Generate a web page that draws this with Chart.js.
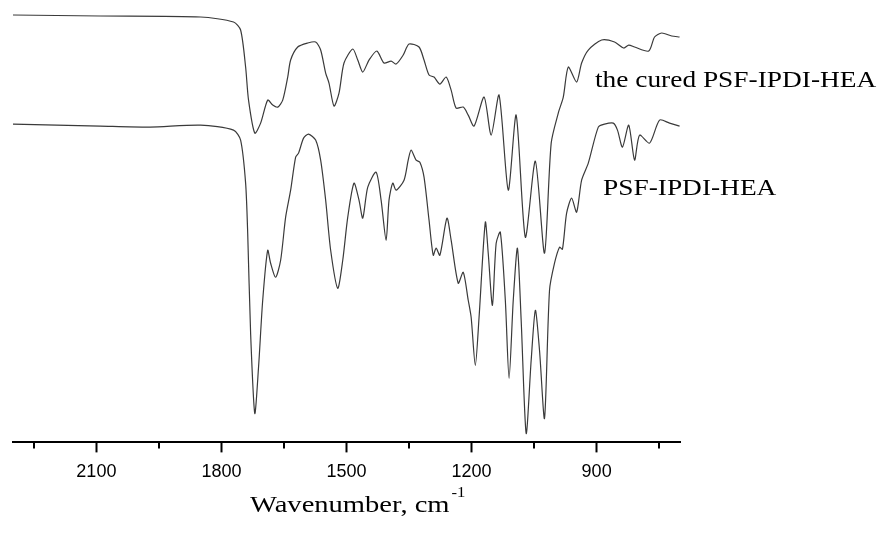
<!DOCTYPE html>
<html>
<head>
<meta charset="utf-8">
<script src="https://cdn.jsdelivr.net/npm/chart.js@4"></script>
<style>
  html, body { margin: 0; padding: 0; background: #fff; }
  #wrap { width: 882px; height: 533px; }
</style>
</head>
<body>
<div id="wrap"><canvas id="irChart" width="882" height="533"></canvas></div>
<script>
// FTIR spectra: cured vs uncured PSF-IPDI-HEA (transmittance, arbitrary units)

const seriesNames = ["the cured PSF-IPDI-HEA", "PSF-IPDI-HEA"];

const curedWavenumber = [2300, 2091, 1850, 1771, 1754, 1742, 1735, 1720, 1706, 1689, 1677, 1665, 1653, 1641, 1634, 1617, 1593, 1574, 1562, 1550, 1542, 1530, 1518, 1506, 1485, 1473, 1461, 1446, 1427, 1410, 1393, 1381, 1364, 1350, 1326, 1314, 1302, 1290, 1276, 1261, 1249, 1237, 1220, 1208, 1194, 1170, 1153, 1134, 1112, 1093, 1071, 1047, 1025, 1009, 992, 980, 968, 948, 936, 920, 888, 857, 835, 823, 809, 775, 761, 744, 720, 701];
const curedTrans = [427, 426, 425, 420, 412, 375, 342, 309, 319, 342, 337, 335, 342, 365, 382, 395, 399, 400, 392, 369, 359, 336, 349, 379, 393, 382, 370, 382, 391, 379, 381, 378, 387, 398, 395, 382, 367, 365, 358, 365, 352, 334, 335, 327, 316, 345, 307, 347, 252, 327, 205, 281, 189, 299, 329, 345, 375, 360, 379, 392, 402, 400, 394, 397, 395, 391, 405, 409, 406, 405];

const rawWavenumber = [2300, 2091, 1971, 1850, 1771, 1754, 1742, 1737, 1730, 1720, 1711, 1701, 1689, 1682, 1670, 1658, 1646, 1634, 1622, 1615, 1603, 1591, 1574, 1562, 1550, 1538, 1521, 1509, 1497, 1482, 1470, 1461, 1449, 1429, 1417, 1405, 1398, 1389, 1381, 1362, 1352, 1345, 1333, 1324, 1314, 1302, 1292, 1285, 1276, 1259, 1249, 1232, 1220, 1208, 1201, 1191, 1182, 1167, 1160, 1150, 1141, 1131, 1119, 1110, 1100, 1090, 1081, 1069, 1057, 1047, 1037, 1025, 1013, 1001, 989, 982, 972, 960, 948, 936, 920, 896, 881, 860, 850, 838, 823, 809, 797, 773, 749, 725, 701];
const rawTrans = [318, 316, 315, 317, 312, 302, 259, 209, 109, 29, 75, 142, 192, 179, 165, 182, 225, 252, 285, 289, 304, 308, 302, 282, 242, 192, 154, 182, 225, 259, 242, 224, 255, 270, 242, 202, 242, 259, 252, 262, 282, 292, 282, 280, 265, 222, 187, 194, 187, 224, 202, 159, 170, 142, 125, 77, 125, 220, 189, 137, 199, 210, 142, 64, 142, 194, 122, 9, 82, 132, 92, 24, 152, 179, 195, 193, 229, 244, 230, 262, 279, 315, 318, 319, 312, 295, 317, 282, 307, 299, 322, 319, 316];

const majorTicks = [2100, 1800, 1500, 1200, 900];
const minorTicks = [2250, 1950, 1650, 1350, 1050, 750];
const axisTitle = "Wavenumber, cm";
const axisTitleSup = "-1";

function toPoints(xs, ys) {
    return xs.map(function(x, i) { return { x: x, y: ys[i] }; });
}

// minor ticks, series labels and the axis title with its superscript
const decorPlugin = {
    id: "decor",
    afterDraw(chart) {
        const ctx = chart.ctx;
        const xs = chart.scales.x;
        const area = chart.chartArea;
        ctx.save();

        ctx.strokeStyle = "#000";
        ctx.lineWidth = 2;
        minorTicks.forEach(function(v) {
            const px = Math.round(xs.getPixelForValue(v));
            ctx.beginPath();
            ctx.moveTo(px, area.bottom);
            ctx.lineTo(px, area.bottom + 6);
            ctx.stroke();
        });

        ctx.fillStyle = "#000";
        ctx.textBaseline = "alphabetic";
        ctx.textAlign = "left";

        // serif text in the figure is slightly wide, so stretch it a bit
        function wideText(str, x, y, size) {
            ctx.save();
            ctx.translate(x, y);
            ctx.scale(1.19, 1);
            ctx.font = size + "px 'Liberation Serif', 'Times New Roman', serif";
            ctx.fillText(str, 0, 0);
            const w = ctx.measureText(str).width * 1.19;
            ctx.restore();
            return w;
        }

        wideText(seriesNames[0], 595, 87, 23);
        wideText(seriesNames[1], 603, 195, 23);

        const titleW = wideText(axisTitle, 250, 512, 24);
        wideText(axisTitleSup, 250 + titleW + 2, 497, 14);

        ctx.restore();
    }
};

const chart = new Chart(document.getElementById("irChart"), {
    type: "line",
    data: {
        datasets: [
            {
                label: seriesNames[0],
                data: toPoints(curedWavenumber, curedTrans),
                borderColor: "#3a3a3a",
                borderWidth: 1.2,
                pointRadius: 0,
                tension: 0.25,
                fill: false
            },
            {
                label: seriesNames[1],
                data: toPoints(rawWavenumber, rawTrans),
                borderColor: "#3a3a3a",
                borderWidth: 1.2,
                pointRadius: 0,
                tension: 0.25,
                fill: false
            }
        ]
    },
    options: {
        responsive: false,
        animation: false,
        layout: {
            padding: { left: 13, right: 202, top: 10, bottom: 41 }
        },
        scales: {
            x: {
                type: "linear",
                reverse: true,
                min: 700,
                max: 2300,
                afterBuildTicks: function(scale) {
                    scale.ticks = majorTicks.map(function(v) { return { value: v }; });
                },
                border: { display: true, color: "#000", width: 2 },
                grid: {
                    drawOnChartArea: false,
                    drawTicks: true,
                    tickLength: 10,
                    tickColor: "#000",
                    tickWidth: 2
                },
                ticks: {
                    color: "#000",
                    padding: 9,
                    maxRotation: 0,
                    autoSkip: false,
                    font: { family: "'Liberation Sans', Arial, sans-serif", size: 18 },
                    callback: function(v) { return String(v); }
                }
            },
            y: {
                display: false,
                min: 0,
                max: 432
            }
        },
        plugins: {
            legend: { display: false },
            tooltip: { enabled: false }
        }
    },
    plugins: [decorPlugin]
});
</script>
</body>
</html>
